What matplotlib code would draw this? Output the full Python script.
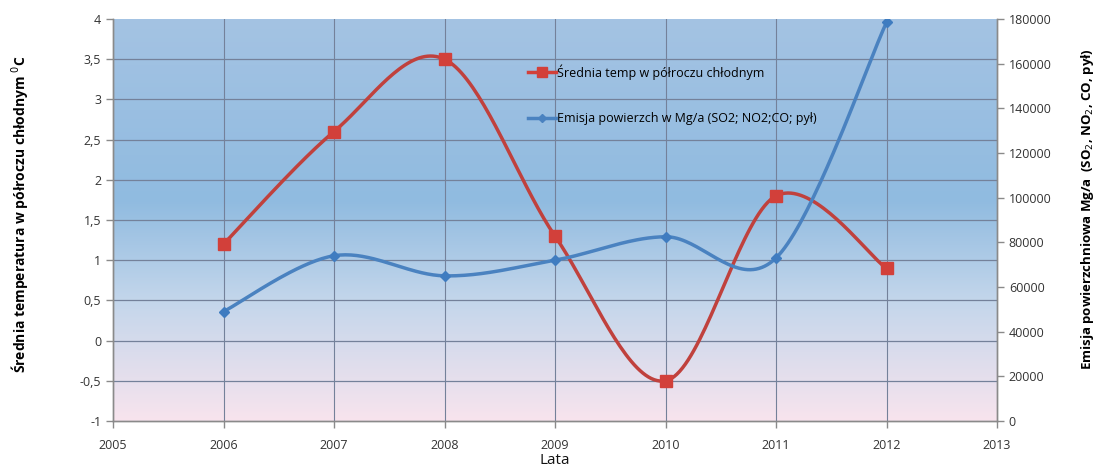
import numpy as np
import matplotlib
matplotlib.use("Agg")
import matplotlib.pyplot as plt
from matplotlib.colors import LinearSegmentedColormap

plt.rcParams['font.family'] = ['Open Sans', 'DejaVu Sans']

# Years and the two series
lata = [2006, 2007, 2008, 2009, 2010, 2011, 2012]
temp = [1.2, 2.6, 3.5, 1.3, -0.5, 1.8, 0.9]
emisja = [49000, 74000, 65000, 72000, 82500, 73000, 178500]

temp_ticks = [-1, -0.5, 0, 0.5, 1, 1.5, 2, 2.5, 3, 3.5, 4]
emisja_ticks = [0, 20000, 40000, 60000, 80000, 100000, 120000, 140000, 160000, 180000]
rok_ticks = list(range(2005, 2014))


def smooth(x, y, n=40):
    # Excel-style smoothed line: Catmull-Rom segments as cubic Beziers
    x = np.asarray(x, float)
    y = np.asarray(y, float)
    px = np.r_[x[0], x, x[-1]]
    py = np.r_[y[0], y, y[-1]]
    xs, ys = [], []
    t = np.linspace(0, 1, n)
    for i in range(len(x) - 1):
        p0 = np.array([px[i], py[i]])
        p1 = np.array([px[i + 1], py[i + 1]])
        p2 = np.array([px[i + 2], py[i + 2]])
        p3 = np.array([px[i + 3], py[i + 3]])
        c1 = p1 + (p2 - p0) / 6
        c2 = p2 - (p3 - p1) / 6
        pts = ((1 - t) ** 3)[:, None] * p1 + (3 * (1 - t) ** 2 * t)[:, None] * c1 \
            + (3 * (1 - t) * t ** 2)[:, None] * c2 + (t ** 3)[:, None] * p2
        xs.extend(pts[:, 0])
        ys.extend(pts[:, 1])
    return np.array(xs), np.array(ys)


fig = plt.figure(figsize=(10.96, 4.67), dpi=100)
ax = fig.add_axes([113 / 1096, 46 / 467, 884 / 1096, 402 / 467])
ax2 = ax.twinx()

# blue-to-pink background
cmap = LinearSegmentedColormap.from_list(
    "tlo", [(0.0, "#a4c3e3"), (0.45, "#90bbe0"), (0.7, "#c3d6eb"), (1.0, "#f8e4ee")])
grad = np.linspace(0, 1, 256)[:, None]
ax.imshow(grad, cmap=cmap, aspect='auto', extent=[2005, 2013, -1, 4],
          origin='upper', zorder=0)

ax.set_xlim(2005, 2013)
ax.set_ylim(-1, 4)
ax2.set_ylim(0, 180000)

ax.set_xticks(rok_ticks)
ax.set_yticks(temp_ticks)
ax.set_yticklabels([f"{v:g}".replace('.', ',') for v in temp_ticks])
ax2.set_yticks(emisja_ticks)
ax2.set_yticklabels([str(v) for v in emisja_ticks])

for v in rok_ticks[1:-1]:
    ax.axvline(v, color="#74819a", lw=0.8, zorder=1)
for v in temp_ticks[1:-1]:
    ax.axhline(v, color="#74819a", lw=0.9, zorder=1)

for a in (ax, ax2):
    for s in a.spines.values():
        s.set_color("#8a8a8a")
        s.set_linewidth(1.0)
    a.tick_params(colors="#8a8a8a", labelcolor="#333333", labelsize=9,
                  length=5, width=1)
ax.spines['top'].set_visible(False)
ax2.spines['top'].set_visible(False)
ax.tick_params(axis='x', pad=8)

sx, sy = smooth(lata, temp)
ax.plot(sx, sy, color="#c0413d", lw=2.5, zorder=3)
ax.plot(lata, temp, 's', color="#d2403a", ms=8, zorder=4)
l1, = ax.plot([], [], '-s', color="#d2403a", lw=2.5, ms=7,
              label="Średnia temp w półroczu chłodnym")

ex, ey = smooth(lata, emisja)
ax2.plot(ex, ey, color="#4a82c0", lw=2.5, zorder=3)
ax2.plot(lata, emisja, 'D', color="#3f7cc0", ms=5, zorder=4)
l2, = ax2.plot([], [], '-D', color="#4a82c0", lw=2.5, ms=4,
               label="Emisja powierzch w Mg/a (SO2; NO2;CO; pył)")

ax2.legend(handles=[l1, l2], loc='upper left', frameon=False,
           bbox_to_anchor=(522 / 1096, 1 - 58 / 467), bbox_transform=fig.transFigure,
           borderpad=0, handlelength=2.2, handletextpad=0.1, labelspacing=2.6,
           fontsize=9)

ax.set_xlabel("Lata", fontsize=11, labelpad=1, color="#111111")
ax.set_ylabel("Średnia temperatura w półroczu chłodnym $^{0}$C", fontsize=10,
              fontweight='bold')
ax.yaxis.set_label_coords(-0.094, 0.515)
ax2.set_ylabel("Emisja powierzchniowa Mg/a  (SO$_2$, NO$_2$, CO, pył)", fontsize=9.5,
               fontweight='bold', rotation=90)
ax2.yaxis.set_label_coords(1.093, 0.527)

fig.savefig("out.png", dpi=100)
